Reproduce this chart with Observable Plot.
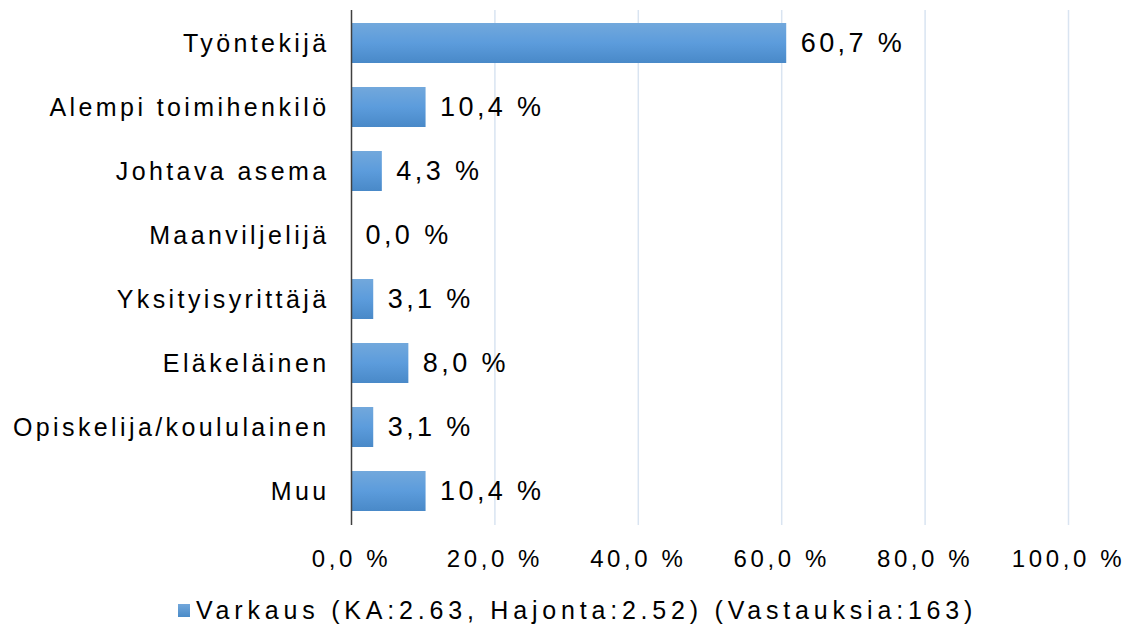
<!DOCTYPE html>
<html><head><meta charset="utf-8">
<script src="https://cdn.jsdelivr.net/npm/d3@7"></script>
<script src="https://cdn.jsdelivr.net/npm/@observablehq/plot@0.6"></script>
<style>
body{margin:0;background:#fff;font-family:"Liberation Sans",Arial,sans-serif;}
#chart{position:relative;width:1131px;height:633px;}
#legend{position:absolute;left:178px;top:596px;display:flex;align-items:center;font-size:25px;color:#000;letter-spacing:4.8px;white-space:nowrap;}
#legend .sw{width:12px;height:13px;background:linear-gradient(#72a7db,#4a8bc8);margin-right:6px;}
</style></head>
<body><div id="chart"><div id="legend"><span class="sw"></span><span>Varkaus (KA:2.63, Hajonta:2.52) (Vastauksia:163)</span></div></div>
<script>
const categories = ["Työntekijä","Alempi toimihenkilö","Johtava asema","Maanviljelijä","Yksityisyrittäjä","Eläkeläinen","Opiskelija/koululainen","Muu"];
const values = [60.7, 10.4, 4.3, 0.0, 3.1, 8.0, 3.1, 10.4];
const xTicks = [0, 20, 40, 60, 80, 100];
const data = categories.map((c, i) => ({category: c, value: values[i]}));
const fmt = v => v.toFixed(1).replace(".", ",") + " %";

const plot = Plot.plot({
  width: 1131,
  height: 585,
  marginLeft: 351,
  marginRight: 63,
  marginTop: 10,
  marginBottom: 60,
  style: {fontFamily: "Liberation Sans, Arial, sans-serif", fontSize: "24px", color: "#000", background: "#fff"},
  x: {domain: [0, 100], ticks: xTicks, tickFormat: fmt, label: null},
  y: {domain: categories, label: null, paddingInner: 0.37, paddingOuter: 0.185},
  marks: [
    Plot.ruleX(xTicks.filter(t => t > 0), {stroke: "#d9e4f1", strokeWidth: 1.5}),
    Plot.barX(data, {x: "value", y: "category", fill: "url(#barGrad)"}),
    Plot.text(data, {x: "value", y: "category", text: d => fmt(d.value), textAnchor: "start", dx: 14, fontSize: 27, fill: "#000"}),
    Plot.ruleX([0], {stroke: "#404040", strokeWidth: 1.5}),
    Plot.axisY({tickSize: 0, tickPadding: 22, fontSize: 25}),
    Plot.axisX({tickSize: 0, tickPadding: 24, fontSize: 24, ticks: xTicks, tickFormat: fmt})
  ]
});
const svg = d3.select(plot);
svg.selectAll('g[aria-label="y-axis tick label"]').attr("letter-spacing", "3.4px");
svg.selectAll('g[aria-label="x-axis tick label"]').attr("letter-spacing", "3.6px");
svg.selectAll('g[aria-label="text"]').attr("letter-spacing", "3.4px");
const defs = svg.insert("defs", ":first-child");
const g = defs.append("linearGradient").attr("id", "barGrad").attr("x1", 0).attr("y1", 0).attr("x2", 0).attr("y2", 1);
g.append("stop").attr("offset", "0%").attr("stop-color", "#72a8dc");
g.append("stop").attr("offset", "50%").attr("stop-color", "#5c9cdc");
g.append("stop").attr("offset", "100%").attr("stop-color", "#4989c8");
document.getElementById("chart").prepend(plot);
</script>
</body></html>
